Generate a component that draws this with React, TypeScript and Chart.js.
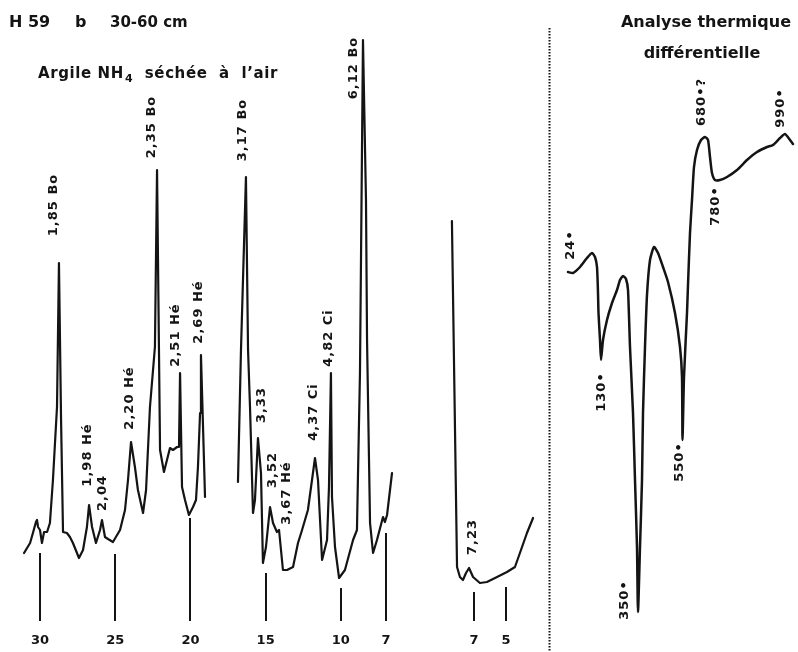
import React, { useEffect, useRef } from 'react';
import { Chart, registerables } from 'chart.js';

Chart.register(...registerables);

// ---- X-ray diffraction, NH4 clay air-dried: Bragg angle θ (°) vs intensity (arbitrary units)
const xrdThetaA = [31.06, 30.66, 30.47, 30.27, 30.2, 30.13, 30.0, 29.87, 29.73, 29.53, 29.34, 29.14, 28.87, 28.74, 28.6, 28.47, 28.21, 28.01, 27.81, 27.41, 27.14, 26.88, 26.74, 26.54, 26.28, 26.01, 25.88, 25.68, 25.48, 25.15, 24.68, 24.35, 24.15, 23.95, 23.69, 23.49, 23.15, 22.95, 22.69, 22.36, 22.22, 22.02, 21.76, 21.56, 21.36, 21.16, 20.89, 20.76, 20.69, 20.56, 20.36, 20.1, 19.83, 19.63, 19.5, 19.36, 19.3, 19.17, 19.03];
const xrdIntA = [-0.6, 1.4, 3.4, 5.6, 6.0, 4.6, 4.0, 1.4, 3.6, 3.6, 5.4, 14, 28.6, 57.4, 26, 3.6, 3.4, 2.6, 1.4, -1.6, 0, 4.6, 9.0, 4.6, 1.4, 4.0, 6.0, 2.6, 2.2, 1.6, 4.0, 8.0, 14, 21.6, 16.6, 12, 7.4, 12, 28.6, 40.6, 76, 20, 15.6, 18, 20.4, 20, 20.6, 20.6, 35.4, 12.6, 10, 7, 8.6, 10, 16.6, 27.4, 39, 25.4, 10.6];

const xrdThetaB = [16.84, 16.64, 16.31, 16.17, 16.04, 15.84, 15.71, 15.51, 15.31, 15.18, 14.98, 14.71, 14.51, 14.25, 14.11, 13.85, 13.58, 13.18, 12.85, 12.58, 12.19, 11.72, 11.52, 11.25, 10.92, 10.79, 10.66, 10.59, 10.39, 10.12, 9.73, 9.19, 8.93, 8.86, 8.73, 8.53, 8.33, 8.26, 8.06, 7.86, 7.6, 7.2, 7.07, 6.93, 6.6];
const xrdIntB = [13.6, 40, 74.6, 40, 28.6, 7.4, 10, 22.4, 15.4, -2.6, 0.6, 8.6, 5.4, 3.6, 4, -4, -4, -3.4, 1.4, 4, 8, 18.4, 14, -2, 2, 12.6, 35.4, 10.6, 0.6, -5.6, -4, 2, 4, 15.4, 35.4, 102, 70, 42, 5.4, -0.6, 2, 6.6, 5.6, 7, 15.4];

// low-angle recording
const xrdThetaC = [8.38, 8.06, 7.88, 7.69, 7.5, 7.31, 7.06, 6.63, 6.19, 5.56, 4.94, 4.44, 4.13, 3.69, 3.31];
const xrdIntC = [65.8, -3.4, -5.4, -6, -4.6, -3.6, -5.4, -6.6, -6.4, -5.4, -4.4, -3.4, -0.6, 3.4, 6.4];

// ---- Differential thermal analysis: run position (arbitrary) vs ΔT (arbitrary)
const dtaRun = [4, 6.5, 10, 13.5, 16, 17.5, 18.5, 19, 19.25, 20, 20.5, 21.5, 23.5, 26, 28.5, 30, 31.5, 33, 34, 35, 36.5, 37.5, 38.5, 39, 40, 41, 41.5, 42.5, 43.5, 45, 47, 49, 51.5, 54, 57.5, 60, 61, 61.25, 62, 63.5, 64, 65, 66, 67, 68.5, 70.5, 72.5, 74, 75, 76, 77.5, 80, 83.5, 88.5, 93.5, 98.5, 103.5, 106.5, 110, 112.5, 115, 116.5];
const dtaDelta = [0, -0.2, 1, 2.8, 3.8, 3, 1, -4.2, -8.2, -13.6, -17.6, -13.6, -9.6, -6.2, -3.6, -1.6, -0.8, -1.4, -3.6, -15, -28.2, -41.6, -55, -68, -55, -41.6, -28.2, -15, -4.6, 2.4, 5, 3.8, 1, -2, -8.2, -15, -21, -33.6, -21, -8.2, -2.6, 7.8, 14.4, 21, 24.4, 26.4, 27, 26.4, 23, 19.8, 18.4, 18.4, 19, 20.4, 22.4, 24, 25, 25.4, 26.8, 27.6, 26.4, 25.6];

// ---- axis ticks (θ) and the level where each tick line stops under the trace
const tickMain = [30, 25, 20, 15, 10, 7];
const tickMainTop = [-0.6, -0.8, 6.4, -4.6, -7.6, 3.4];
const tickLow = [7, 5];
const tickLowTop = [-8.4, -7.4];
const tickFoot = -14.2;
const tickTextLevel = -18.2;

// ---- peak annotations (d spacings, Å)
const peakText = ['1,85 Bo', '1,98 Hé', '2,04', '2,20 Hé', '2,35 Bo', '2,51 Hé', '2,69 Hé', '3,17 Bo', '3,33', '3,52', '3,67 Hé', '4,37 Ci', '4,82 Ci', '6,12 Bo'];
const peakTheta = [29.07, 26.81, 25.81, 24.02, 22.56, 20.96, 19.43, 16.51, 15.24, 14.51, 13.58, 11.79, 10.79, 9.13];
const peakInt = [69, 19, 11.4, 30.4, 84.6, 43, 47.6, 84, 29, 16, 11.4, 27.6, 42.4, 96.4];
const lowPeakText = ['7,23'];
const lowPeakTheta = [7.06];
const lowPeakInt = [2.6];

// ---- DTA temperature annotations (°C)
const dtaText = ['24•', '130•', '350•', '550•', '680•?', '780•', '990•'];
const dtaTextRun = [5.5, 21, 32.5, 60, 71, 78, 110.5];
const dtaTextDelta = [5.4, -24, -65.6, -38, 34, 13.2, 32.8];
const dividerRun = -5.5;

const INK = '#141414';
const FONT = '"DejaVu Sans", sans-serif';

function zip(xs: number[], ys: number[]) {
  return xs.map((x, i) => ({ x, y: ys[i] }));
}

export default function App() {
  const ref = useRef<HTMLCanvasElement | null>(null);

  useEffect(() => {
    const canvas = ref.current;
    if (!canvas) return;

    const overlay = {
      id: 'overlay',
      afterDatasetsDraw(chart: any) {
        const ctx = chart.ctx as CanvasRenderingContext2D;
        const sx = chart.scales.x, sx2 = chart.scales.x2, sy = chart.scales.y;
        const sd = chart.scales.xd, syd = chart.scales.yd;
        ctx.save();
        ctx.fillStyle = INK;
        ctx.strokeStyle = INK;

        // tick lines
        ctx.lineWidth = 2;
        const tickLine = (scale: any, v: number, top: number) => {
          const px = Math.round(scale.getPixelForValue(v));
          ctx.beginPath();
          ctx.moveTo(px, sy.getPixelForValue(tickFoot));
          ctx.lineTo(px, sy.getPixelForValue(top));
          ctx.stroke();
        };
        tickMain.forEach((v, i) => tickLine(sx, v, tickMainTop[i]));
        tickLow.forEach((v, i) => tickLine(sx2, v, tickLowTop[i]));

        // tick labels
        ctx.font = `bold 13px ${FONT}`;
        ctx.textAlign = 'center';
        ctx.textBaseline = 'middle';
        const ty = sy.getPixelForValue(tickTextLevel);
        tickMain.forEach((v) => ctx.fillText(String(v), sx.getPixelForValue(v), ty));
        tickLow.forEach((v) => ctx.fillText(String(v), sx2.getPixelForValue(v), ty));

        // rotated annotations
        const vtext = (t: string, px: number, py: number) => {
          ctx.save();
          ctx.translate(px, py);
          ctx.rotate(-Math.PI / 2);
          ctx.textAlign = 'center';
          ctx.textBaseline = 'middle';
          ctx.fillText(t, 0, 0);
          ctx.restore();
        };
        ctx.font = `bold 13px ${FONT}`;
        (ctx as any).letterSpacing = '1px';
        peakText.forEach((t, i) => vtext(t, sx.getPixelForValue(peakTheta[i]), sy.getPixelForValue(peakInt[i])));
        lowPeakText.forEach((t, i) => vtext(t, sx2.getPixelForValue(lowPeakTheta[i]), sy.getPixelForValue(lowPeakInt[i])));
        dtaText.forEach((t, i) => vtext(t, sd.getPixelForValue(dtaTextRun[i]), syd.getPixelForValue(dtaTextDelta[i])));
        (ctx as any).letterSpacing = '0px';

        // dotted divider
        const dx = Math.round(sd.getPixelForValue(dividerRun)) + 0.5;
        ctx.lineWidth = 2;
        ctx.setLineDash([1.5, 1.5]);
        ctx.beginPath();
        ctx.moveTo(dx, 28);
        ctx.lineTo(dx, chart.height);
        ctx.stroke();
        ctx.setLineDash([]);

        // titles
        ctx.textAlign = 'left';
        ctx.textBaseline = 'alphabetic';
        ctx.font = `bold 16px ${FONT}`;
        ctx.fillText('H 59', 9, 27);
        ctx.fillText('b', 75, 27);
        ctx.font = `bold 15px ${FONT}`;
        ctx.fillText('30-60 cm', 110, 27);

        ctx.font = `bold 15px ${FONT}`;
        (ctx as any).letterSpacing = '0.6px';
        let x = 38;
        const by = 78;
        const part1 = 'Argile NH';
        ctx.fillText(part1, x, by);
        x += ctx.measureText(part1).width;
        ctx.font = `bold 11px ${FONT}`;
        ctx.fillText('4', x + 1, by + 4);
        x += ctx.measureText('4').width + 1;
        ctx.font = `bold 15px ${FONT}`;
        ctx.fillText('  séchée  à  l\u2019air', x, by);
        (ctx as any).letterSpacing = '0px';

        ctx.textAlign = 'center';
        ctx.font = `bold 16px ${FONT}`;
        ctx.fillText('Analyse thermique', 706, 27);
        ctx.fillText('différentielle', 702, 58);

        ctx.restore();
      },
    };

    const lineDs = (data: any[], xAxisID: string, yAxisID: string, tension: number, width: number) => ({
      data,
      xAxisID,
      yAxisID,
      borderColor: INK,
      borderWidth: width,
      pointRadius: 0,
      tension,
      fill: false,
      borderJoinStyle: 'round' as const,
      borderCapStyle: 'round' as const,
    });

    const hidden = { display: false, grid: { display: false } };

    const chart = new Chart(canvas, {
      type: 'line',
      data: {
        datasets: [
          lineDs(zip(xrdThetaA, xrdIntA), 'x', 'y', 0, 2.2),
          lineDs(zip(xrdThetaB, xrdIntB), 'x', 'y', 0, 2.2),
          lineDs(zip(xrdThetaC, xrdIntC), 'x2', 'y', 0, 2.2),
          lineDs(zip(dtaRun, dtaDelta), 'xd', 'yd', 0.2, 2.5),
        ],
      },
      options: {
        animation: false,
        responsive: false,
        devicePixelRatio: 1,
        layout: { padding: 0 },
        plugins: { legend: { display: false }, tooltip: { enabled: false } },
        events: [],
        scales: {
          x: { ...hidden, type: 'linear', reverse: true, min: -20.388, max: 32.659 },
          x2: { ...hidden, type: 'linear', reverse: true, min: -13.25, max: 36.625 },
          xd: { ...hidden, type: 'linear', min: -280, max: 119 },
          y: { ...hidden, type: 'linear', min: -20.4, max: 110 },
          yd: { ...hidden, type: 'linear', min: -76, max: 54.4 },
        },
      },
      plugins: [overlay],
    } as any);

    return () => chart.destroy();
  }, []);

  return (
    <div style={{ position: 'absolute', left: 0, top: 0, width: 798, height: 652, background: '#fff' }}>
      <canvas ref={ref} width={798} height={652} style={{ display: 'block', width: 798, height: 652 }} />
    </div>
  );
}
